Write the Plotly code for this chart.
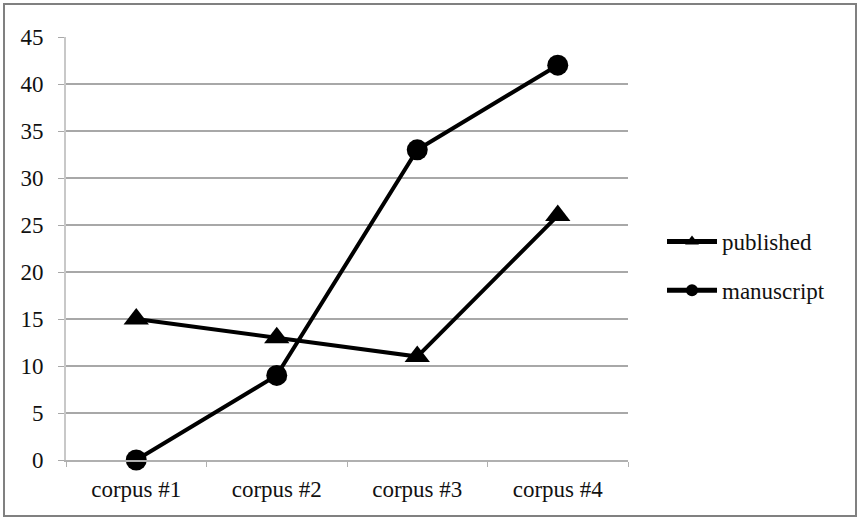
import plotly.graph_objects as go

categories = ["corpus #1", "corpus #2", "corpus #3", "corpus #4"]
published = [15, 13, 11, 26]
manuscript = [0, 9, 33, 42]
y_ticks = [0, 5, 10, 15, 20, 25, 30, 35, 40, 45]

W, H = 859, 519
L, R, T, B = 66, 628, 37, 460

fig = go.Figure()
fig.add_trace(go.Scatter(x=categories, y=published, name="published", mode="lines+markers",
                         line=dict(color="black", width=4), legendgroup="a", cliponaxis=False,
                         marker=dict(symbol="triangle-up", size=22, color="black")))
fig.add_trace(go.Scatter(x=categories, y=manuscript, name="manuscript", mode="lines+markers",
                         line=dict(color="black", width=4), legendgroup="b", cliponaxis=False,
                         marker=dict(symbol="circle", size=21, color="black")))

def px(x):
    return (x - L) / (R - L)

def py(y):
    return (B - y) / (B - T)

fig.add_shape(type="rect", xref="paper", yref="paper",
              x0=px(4), x1=px(856), y0=py(516), y1=py(4),
              line=dict(color="#808080", width=2), layer="below")

fig.update_layout(
    width=W, height=H,
    margin=dict(l=L, r=W - R, t=T, b=H - B),
    plot_bgcolor="white", paper_bgcolor="white",
    font=dict(family="Liberation Serif", size=23, color="#111"),
    showlegend=True,
    legend=dict(x=px(662), y=py(220), xanchor="left", yanchor="top",
                font=dict(size=23), tracegroupgap=16, itemsizing="constant",
                itemwidth=50),
    xaxis=dict(type="category", showgrid=False, showline=True, linecolor="#b0b0b0",
               linewidth=2, ticks="outside", tickson="boundaries", ticklen=5,
               tickcolor="#b0b0b0", range=[-0.5, 3.5], ticklabelstandoff=7),
    yaxis=dict(range=[0, 45], tickvals=y_ticks, showgrid=True, gridcolor="#a8a8a8",
               gridwidth=1.5, showline=True, linecolor="#c8c8c8", linewidth=2,
               ticks="outside", ticklen=6, tickcolor="#a8a8a8", zeroline=False,
               ticklabelstandoff=10),
)

fig.write_html("out.html")
